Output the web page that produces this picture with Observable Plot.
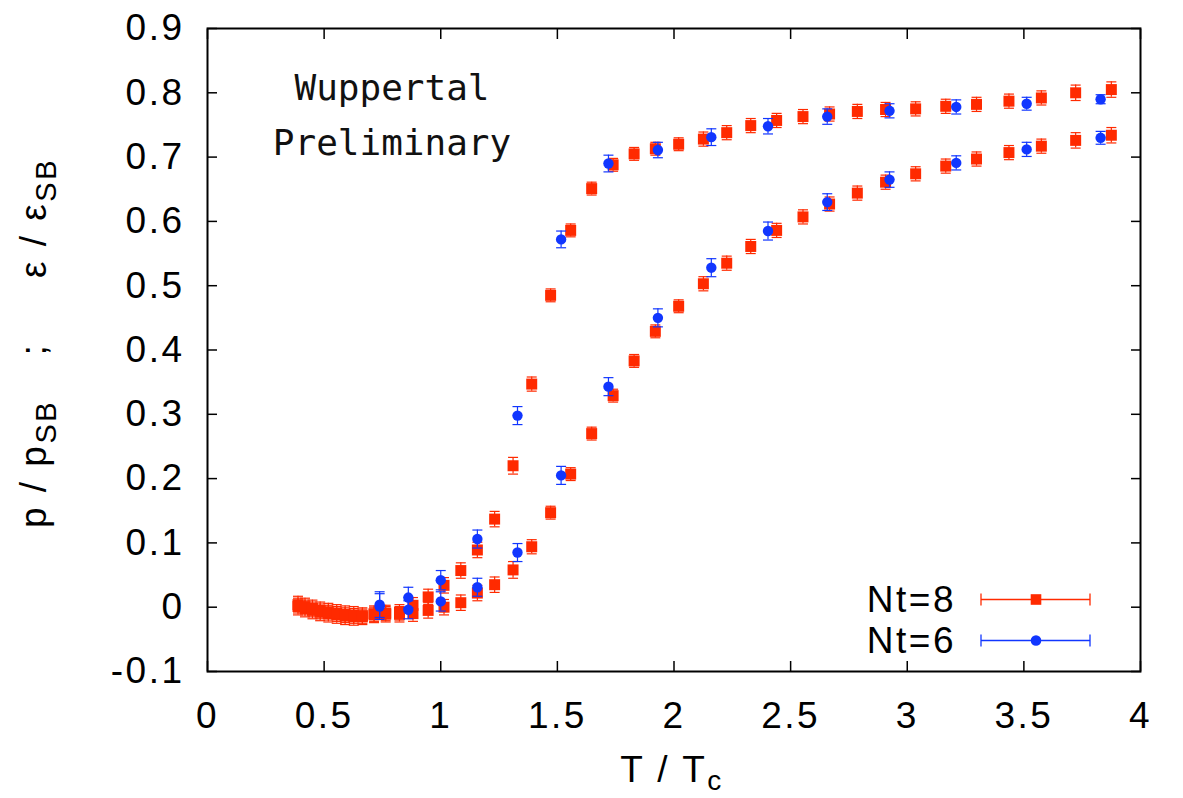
<!DOCTYPE html>
<html>
<head>
<meta charset="utf-8">
<script src="https://cdn.jsdelivr.net/npm/d3@7"></script>
<script src="https://cdn.jsdelivr.net/npm/@observablehq/plot@0.6"></script>
<style>
html, body { margin: 0; padding: 0; background: #fff; }
#chart svg text { letter-spacing: 2.5px; }
#chart svg text.mono { letter-spacing: 0px; }
</style>
</head>
<body>
<div id="chart"></div>
<script>
// ---- Data ----
// Nt=8 (red squares): temperatures T/Tc
const nt8T = [0.388, 0.418, 0.450, 0.483, 0.518, 0.554, 0.590, 0.627, 0.664, 0.714, 0.764, 0.823, 0.881,
  0.946, 1.014, 1.086, 1.157, 1.231, 1.310, 1.390, 1.471, 1.557, 1.647, 1.739, 1.829, 1.920, 2.020,
  2.126, 2.226, 2.329, 2.440, 2.553, 2.667, 2.786, 2.907, 3.036, 3.165, 3.297, 3.436, 3.575, 3.722, 3.875];
// Nt=8 energy density eps/eps_SB
const nt8Eps = [0.004, 0.001, -0.002, -0.005, -0.007, -0.009, -0.011, -0.012, -0.013, -0.010, -0.009, -0.008, 0.003,
  0.016, 0.034, 0.057, 0.089, 0.137, 0.220, 0.347, 0.485, 0.586, 0.651, 0.688, 0.705, 0.713, 0.720,
  0.728, 0.738, 0.749, 0.757, 0.763, 0.767, 0.771, 0.774, 0.775, 0.779, 0.782, 0.787, 0.792, 0.800, 0.805];
// Nt=8 pressure p/p_SB
const nt8P = [0.001, -0.002, -0.005, -0.008, -0.010, -0.012, -0.014, -0.015, -0.015, -0.012, -0.011, -0.011, -0.010,
  -0.005, 0.000, 0.007, 0.022, 0.035, 0.058, 0.094, 0.147, 0.207, 0.270, 0.329, 0.383, 0.429, 0.468,
  0.503, 0.535, 0.561, 0.586, 0.607, 0.627, 0.644, 0.661, 0.674, 0.686, 0.697, 0.707, 0.717, 0.726, 0.734];
// Nt=8 error bars
const nt8Err = [0.013, 0.013, 0.013, 0.013, 0.013, 0.013, 0.013, 0.013, 0.012, 0.012, 0.012, 0.012, 0.012,
  0.012, 0.012, 0.012, 0.012, 0.012, 0.013, 0.011, 0.010, 0.010, 0.010, 0.010, 0.010, 0.010, 0.010,
  0.011, 0.011, 0.011, 0.011, 0.011, 0.011, 0.011, 0.011, 0.011, 0.011, 0.011, 0.011, 0.011, 0.012, 0.012];

// Nt=6 (blue circles)
const nt6T = [0.738, 0.861, 1.000, 1.157, 1.329, 1.516, 1.719, 1.931, 2.160, 2.403, 2.657, 2.924, 3.210, 3.512, 3.829];
const nt6Eps = [0.004, 0.015, 0.042, 0.106, 0.298, 0.572, 0.690, 0.711, 0.731, 0.748, 0.763, 0.772, 0.778, 0.783, 0.790];
const nt6EpsErr = [0.020, 0.016, 0.015, 0.014, 0.014, 0.013, 0.013, 0.012, 0.013, 0.012, 0.012, 0.011, 0.011, 0.010, 0.007];
const nt6P = [0.001, -0.004, 0.009, 0.031, 0.085, 0.205, 0.343, 0.450, 0.528, 0.585, 0.630, 0.665, 0.691, 0.712, 0.730];
const nt6PErr = [0.020, 0.014, 0.015, 0.014, 0.014, 0.014, 0.014, 0.014, 0.014, 0.014, 0.013, 0.012, 0.011, 0.011, 0.010];

// Axis ticks
const xTicks = [0, 0.5, 1, 1.5, 2, 2.5, 3, 3.5, 4];
const yTicks = [-0.1, 0, 0.1, 0.2, 0.3, 0.4, 0.5, 0.6, 0.7, 0.8, 0.9];

// Text
const annotLines = ["Wuppertal", "Preliminary"];
const legendLabels = ["Nt=8", "Nt=6"];

// ---- Build ----
const red = "#ff2a00";
const blue = "#1136ff";

function rows(T, V, E) { return T.map((t, i) => ({T: t, v: V[i], e: E[i]})); }
const r8 = [...rows(nt8T, nt8P, nt8Err), ...rows(nt8T, nt8Eps, nt8Err)];
const r6 = [...rows(nt6T, nt6P, nt6PErr), ...rows(nt6T, nt6Eps, nt6EpsErr)];

const capSymbol = {draw(ctx, size) { const w = Math.sqrt(size / Math.PI); ctx.moveTo(-w, 0); ctx.lineTo(w, 0); }};

function errMarks(data, color) {
  return [
    Plot.ruleX(data, {x: "T", y1: d => d.v - d.e, y2: d => d.v + d.e, stroke: color, strokeWidth: 1.2}),
    Plot.dot(data, {x: "T", y: d => d.v - d.e, symbol: capSymbol, r: 5, stroke: color, strokeWidth: 1.2, fill: "none"}),
    Plot.dot(data, {x: "T", y: d => d.v + d.e, symbol: capSymbol, r: 5, stroke: color, strokeWidth: 1.2, fill: "none"})
  ];
}

const fmt = d => String(d);
const noText = () => "";

const svgEl = Plot.plot({
  width: 1183,
  height: 798,
  marginLeft: 207,
  marginRight: 43,
  marginTop: 28,
  marginBottom: 127,
  style: {fontFamily: "'Liberation Sans', Arial, sans-serif", fontSize: "37px", color: "black", background: "white", overflow: "visible"},
  x: {domain: [0, 4], label: null},
  y: {domain: [-0.1, 0.9], label: null},
  marks: [
    ...errMarks(r8, red),
    Plot.dot(r8, {x: "T", y: "v", symbol: "square", r: 6.2, fill: red}),
    ...errMarks(r6, blue),
    Plot.dot(r6, {x: "T", y: "v", symbol: "circle", r: 5.2, fill: blue}),
    Plot.axisX({ticks: xTicks, anchor: "bottom", tickSize: -10, tickPadding: 40, tickFormat: fmt, strokeWidth: 1.5, label: null}),
    Plot.axisX({ticks: xTicks, anchor: "top", tickSize: -10, tickFormat: noText, strokeWidth: 1.5, label: null}),
    Plot.axisY({ticks: yTicks, anchor: "left", tickSize: -10, tickPadding: 33, tickFormat: fmt, strokeWidth: 1.5, label: null}),
    Plot.axisY({ticks: yTicks, anchor: "right", tickSize: -10, tickFormat: noText, strokeWidth: 1.5, label: null}),
    Plot.frame({stroke: "black", strokeWidth: 2})
  ]
});

document.getElementById("chart").appendChild(svgEl);

// ---- Decorations: labels, annotation, legend ----
const svg = d3.select(svgEl);
const font = "'Liberation Sans', Arial, sans-serif";

// x label: T / T_c
const xl = svg.append("text").attr("x", 672).attr("y", 782).attr("text-anchor", "middle")
  .attr("font-family", font).attr("font-size", 37).attr("fill", "black");
xl.append("tspan").text("T / T");
xl.append("tspan").attr("font-size", 28).attr("dy", 8).text("c");

// y label: p / p_SB ; eps / eps_SB (rotated)
function yPiece(cy, main, sub) {
  const t = svg.append("text").attr("transform", `translate(46,${cy}) rotate(-90)`).attr("text-anchor", "middle")
    .attr("font-family", font).attr("font-size", 37).attr("fill", "black");
  t.append("tspan").text(main);
  if (sub) t.append("tspan").attr("font-size", 29).attr("dy", 10).text(sub);
}
yPiece(464, "p / p", "SB");
yPiece(349, ";", null);
yPiece(218, "\u03b5 / \u03b5", "SB");

// annotation
annotLines.forEach((s, i) => {
  svg.append("text").attr("class", "mono").attr("x", 392).attr("y", 100 + i * 55).attr("text-anchor", "middle")
    .attr("font-family", "'DejaVu Sans Mono', monospace").attr("font-size", 36).attr("fill", "#111").text(s);
});

// legend
const legY = [599.5, 640.5];
const legColors = [red, blue];
legY.forEach((y, i) => {
  const c = legColors[i];
  svg.append("text").attr("x", 956).attr("y", y + 12.5).attr("text-anchor", "end")
    .attr("font-family", font).attr("font-size", 37).attr("fill", "black").text(legendLabels[i]);
  svg.append("line").attr("x1", 981).attr("x2", 1090).attr("y1", y).attr("y2", y).attr("stroke", c).attr("stroke-width", 1.3);
  svg.append("line").attr("x1", 981).attr("x2", 981).attr("y1", y - 6).attr("y2", y + 6).attr("stroke", c).attr("stroke-width", 1.3);
  svg.append("line").attr("x1", 1090).attr("x2", 1090).attr("y1", y - 6).attr("y2", y + 6).attr("stroke", c).attr("stroke-width", 1.3);
  if (i === 0) {
    svg.append("rect").attr("x", 1036 - 5.3).attr("y", y - 5.3).attr("width", 10.6).attr("height", 10.6).attr("fill", c);
  } else {
    svg.append("circle").attr("cx", 1036).attr("cy", y).attr("r", 5.3).attr("fill", c);
  }
});
</script>
</body>
</html>
